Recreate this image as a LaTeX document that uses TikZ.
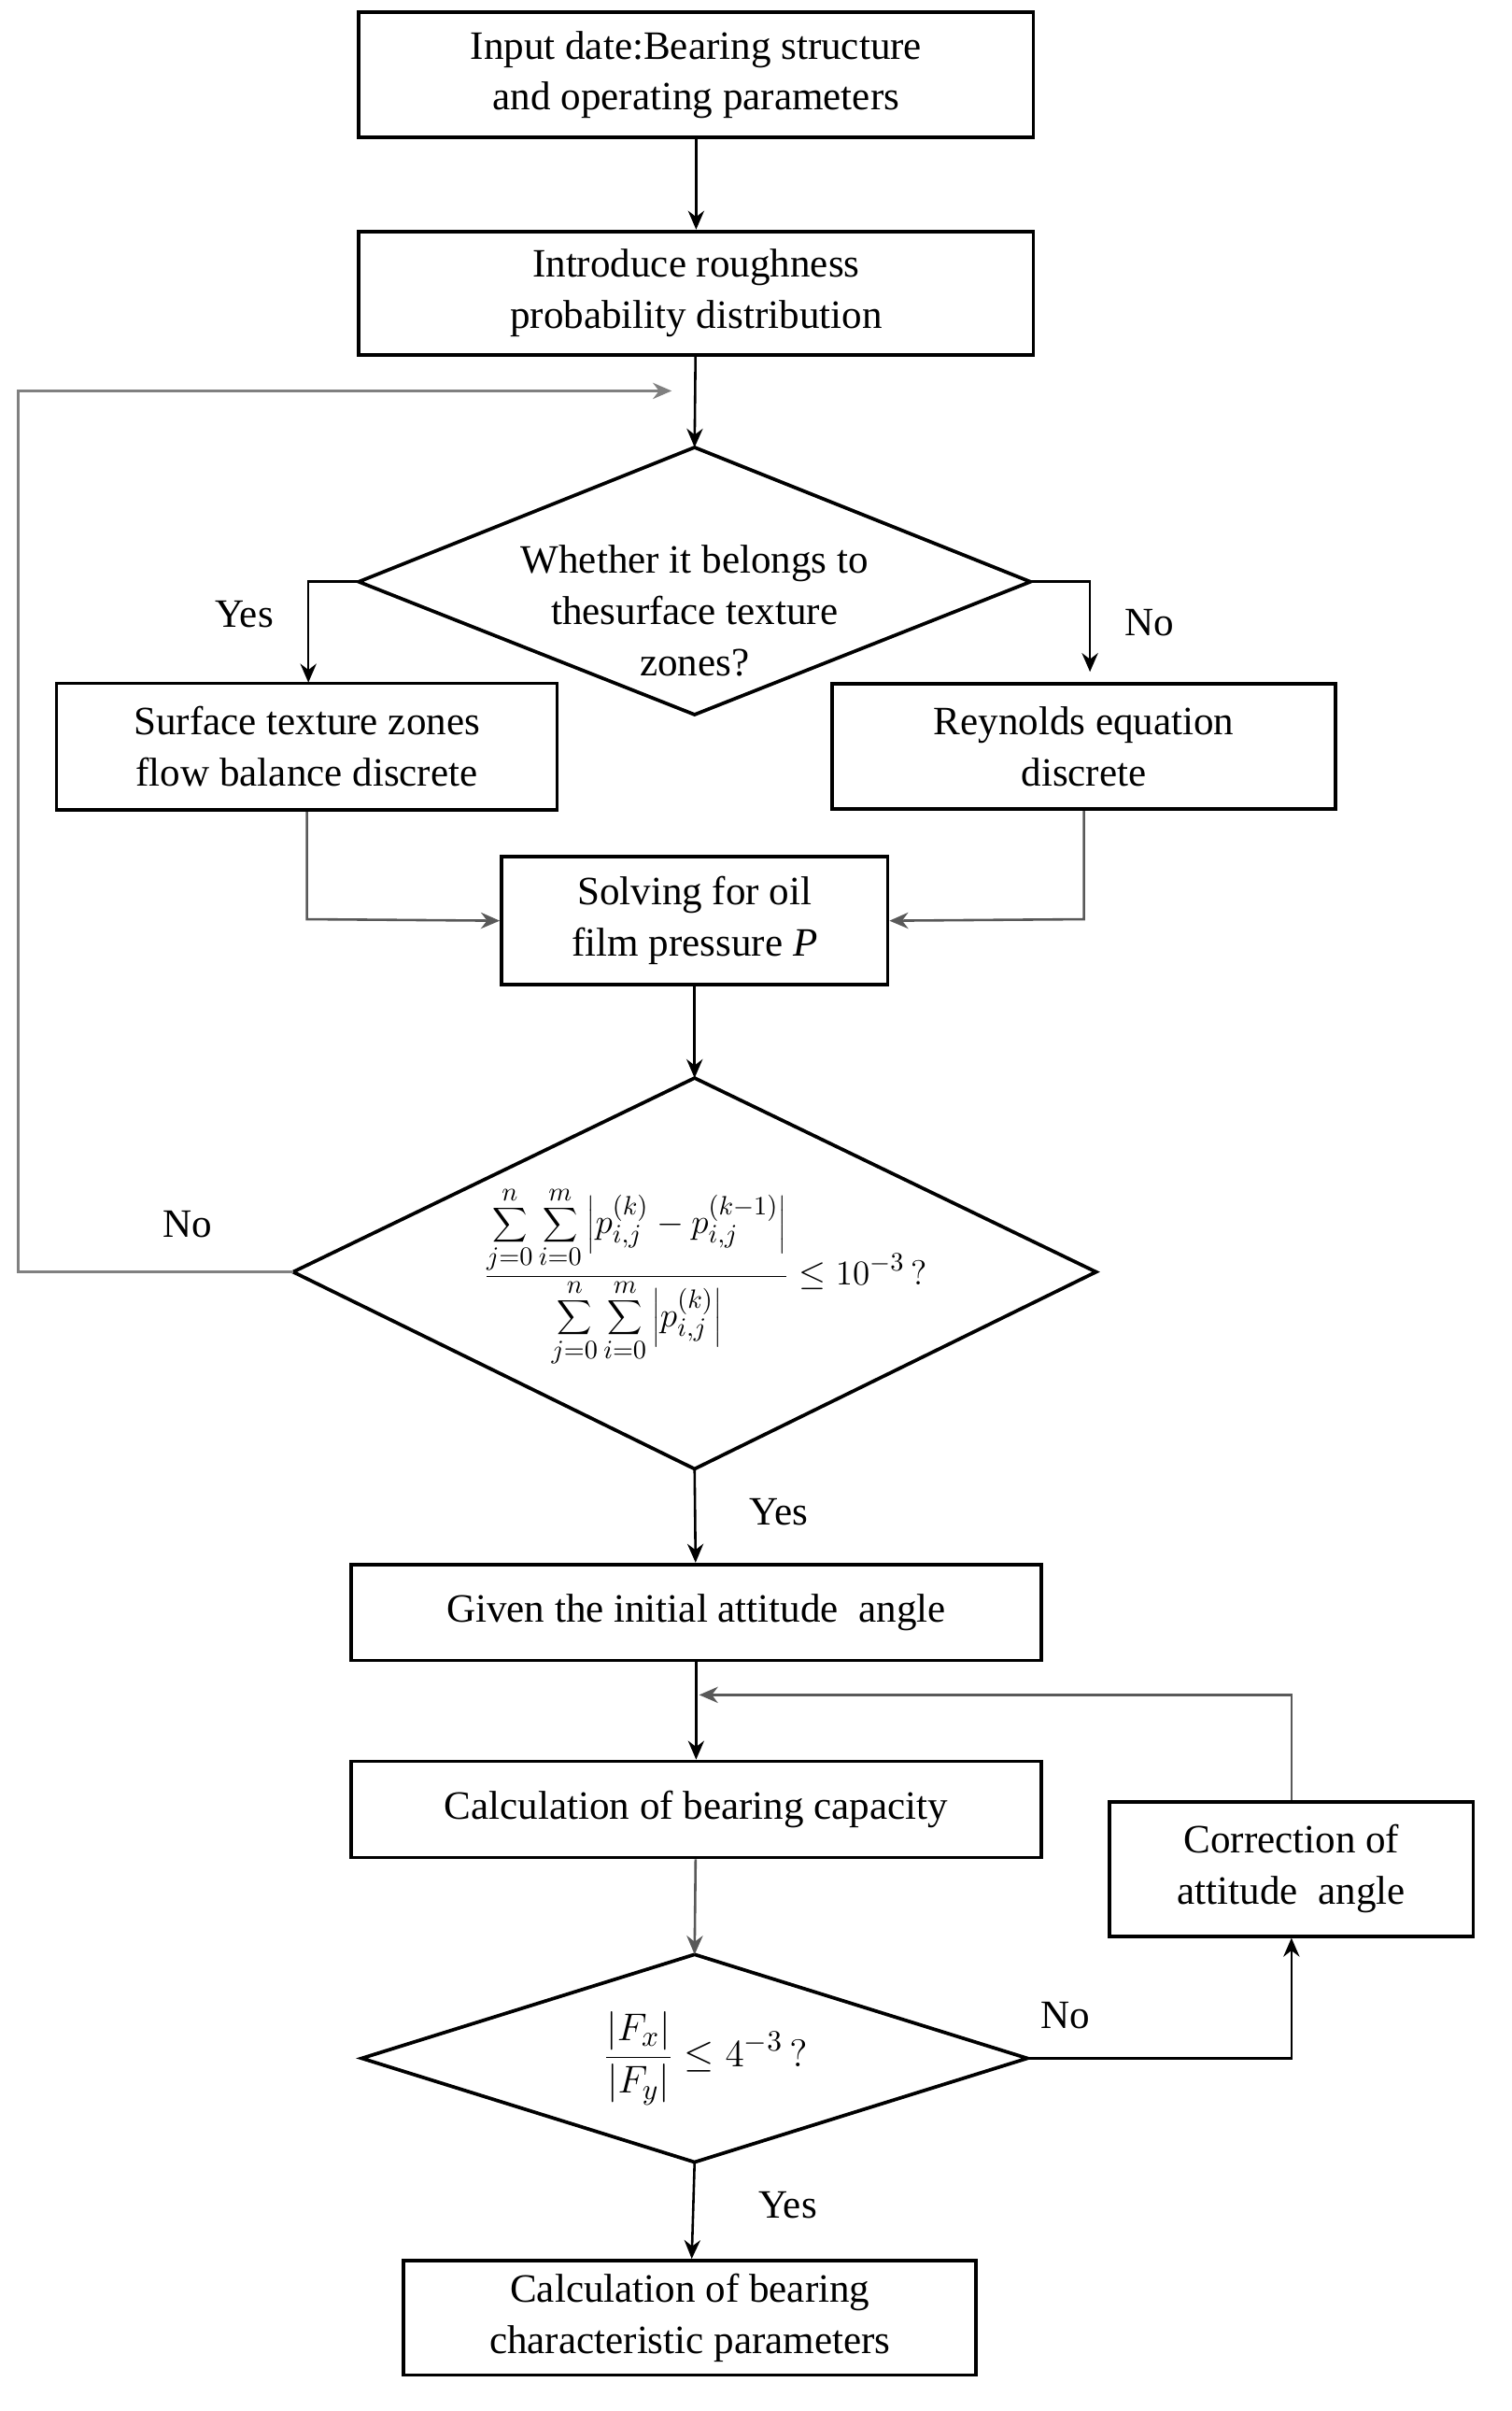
\documentclass[tikz,border=0pt]{standalone}
\usepackage{fontspec}
\setmainfont{Liberation Serif}
\usetikzlibrary{arrows.meta,shapes.geometric}
\begin{document}
\begin{tikzpicture}[x=0.02cm,y=-0.02cm,
  font=\fontsize{15}{19}\selectfont,
  box/.style={draw,line width=1.3pt,align=center,inner sep=0pt},
  arr/.style={line width=0.9pt,-{Stealth[length=7pt,width=6pt]}},
  lbl/.style={font=\fontsize{15}{19}\selectfont}]
\useasboundingbox (0,0) rectangle (990,1579);
\fill[white] (0,0) rectangle (990,1579);
\node[box,minimum width=442*0.02cm,minimum height=82*0.02cm] (b1) at (456,49) {Input date:Bearing structure\\and operating parameters};
\node[box,minimum width=442*0.02cm,minimum height=81*0.02cm] (b2) at (456,192) {Introduce roughness\\probability distribution};
\draw[line width=1.3pt] (455,293) -- (675,381) -- (455,468) -- (235,381) -- cycle;
\node[align=center] (d1) at (455,400) {Whether it belongs to\\thesurface texture\\zones?};
\coordinate (d1t) at (455,293); \coordinate (d1l) at (235,381); \coordinate (d1r) at (675,381); \coordinate (d1b) at (455,468);
\node[box,minimum width=328*0.02cm,minimum height=83*0.02cm] (b3) at (201,489) {Surface texture zones\\flow balance discrete};
\node[box,minimum width=330*0.02cm,minimum height=82*0.02cm] (b4) at (710,489) {Reynolds equation\\discrete};
\node[box,minimum width=253*0.02cm,minimum height=84*0.02cm] (b5) at (455,603) {Solving for oil\\film pressure \textit{P}};
\draw[line width=1.3pt] (455,706) -- (718,833) -- (455,962) -- (192,833) -- cycle;
\coordinate (d2t) at (455,706); \coordinate (d2l) at (192,833); \coordinate (d2b) at (455,962);
\node[scale=0.9] (f) at (462,836) {$\displaystyle\frac{\displaystyle\sum_{j=0}^{n}\sum_{i=0}^{m}\left|p_{i,j}^{(k)}-p_{i,j}^{(k-1)}\right|}{\displaystyle\sum_{j=0}^{n}\sum_{i=0}^{m}\left|p_{i,j}^{(k)}\right|}\le 10^{-3}\,?$};
\node[box,minimum width=452*0.02cm,minimum height=63*0.02cm] (b6) at (456,1056) {Given the initial attitude\ \ angle};
\node[box,minimum width=452*0.02cm,minimum height=63*0.02cm] (b7) at (456,1185) {Calculation of bearing capacity};
\node[box,minimum width=238*0.02cm,minimum height=88*0.02cm] (b8) at (846,1224) {Correction of\\attitude\ \ angle};
\draw[line width=1.3pt] (455,1280) -- (673,1348) -- (455,1416) -- (237,1348) -- cycle;
\coordinate (d3t) at (455,1280); \coordinate (d3r) at (673,1348); \coordinate (d3b) at (455,1416);
\node (f2) at (462,1348) {$\displaystyle\frac{|F_x|}{|F_y|}\le 4^{-3}\,?$};
\node[box,minimum width=375*0.02cm,minimum height=75*0.02cm] (b9) at (452,1518) {Calculation of bearing\\characteristic parameters};
% arrows
\draw[arr] (b1) -- (b2);
\draw[arr] (b2) -- (d1t);
\draw[arr,gray] (d2l) -- (12,833) -- (12,256) -- (440,256);
\draw[arr] (d1l) -- (202,381) -- (202,447);
\draw[arr] (d1r) -- (714,381) -- (714,440);
\draw[arr,gray!70!black] (b3.south) -- (201,602) -- (b5.west);
\draw[arr,gray!70!black] (b4.south) -- (710,602) -- (b5.east);
\draw[arr] (b5) -- (d2t);
\draw[arr] (d2b) -- (b6);
\draw[arr] (b6) -- (b7);
\draw[arr,gray!70!black] (b8.north) -- (846,1110) -- (458,1110);
\draw[arr,gray!70!black] (b7) -- (d3t);
\draw[arr] (d3r) -- (846,1348) -- (b8.south);
\draw[arr] (d3b) -- (b9);
\node[lbl] at (160,402) {Yes};
\node[lbl] at (753,408) {No};
\node[lbl] at (123,802) {No};
\node[lbl] at (510,990) {Yes};
\node[lbl] at (698,1320) {No};
\node[lbl] at (516,1444) {Yes};
\end{tikzpicture}
\end{document}
